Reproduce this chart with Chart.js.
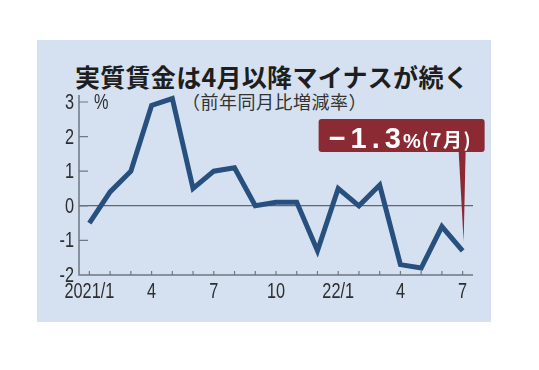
<!DOCTYPE html>
<html>
<head>
<meta charset="utf-8">
<script src="https://cdn.jsdelivr.net/npm/chart.js@4.4.1/dist/chart.umd.min.js"></script>
<style>
  body { margin: 0; background: #fff; }
  #wrap { position: relative; width: 539px; height: 370px; overflow: hidden; }
  #panel { position: absolute; left: 37px; top: 40px; width: 454px; height: 282px; background: #d5e1f1; }
  #title { position: absolute; left: 0; top: 62px; width: 544px; text-align: center;
    font: bold 25px 'Noto Sans CJK JP', sans-serif; line-height: 28px; color: #1e1e1e; letter-spacing: 0.3px; }
  #subtitle { position: absolute; left: 182px; top: 90px; font: 18px 'Noto Sans CJK JP', sans-serif;
    line-height: 22px; color: #333; letter-spacing: 0.5px; }
  canvas { position: absolute; left: 0; top: 0; }
</style>
</head>
<body>
<div id="wrap">
  <div id="panel"></div>
  <div id="title">実質賃金は4月以降マイナスが続く</div>
  <div id="subtitle">（前年同月比増減率）</div>
  <canvas id="chart" width="539" height="370"></canvas>
</div>
<script>
const categories = ['2021/1', '2021/2', '2021/3', '2021/4', '2021/5', '2021/6', '2021/7', '2021/8', '2021/9',
  '2021/10', '2021/11', '2021/12', '2022/1', '2022/2', '2022/3', '2022/4', '2022/5', '2022/6', '2022/7'];
const tickLabels = ['2021/1', '', '', '4', '', '', '7', '', '', '10', '', '', '22/1', '', '', '4', '', '', '7'];
const realWages = [-0.5, 0.4, 1.0, 2.9, 3.1, 0.5, 1.0, 1.1, 0.0, 0.1, 0.1, -1.3, 0.5, 0.0, 0.6, -1.7, -1.8, -0.6, -1.3];
const yTicks = [-2, -1, 0, 1, 2, 3];
const calloutValue = '−1.3';
const calloutUnit = '%';
const calloutMonth = '(7月)';

const axisColor = '#6f7884';
const sansFont = "'Liberation Sans', Arial, 'DejaVu Sans', sans-serif";
const squeeze = 0.74; // the original uses a condensed face for the axis numbers

function narrowText(ctx, text, x, y, align) {
  ctx.save();
  ctx.translate(x, y);
  ctx.scale(squeeze, 1);
  ctx.textAlign = align;
  ctx.fillText(text, 0, 0);
  ctx.restore();
}

// Axis lines, inner tick marks, tick labels and the "%" unit
const axesPlugin = {
  id: 'axes',
  beforeDatasetsDraw(chart) {
    const { ctx, chartArea: a, scales: { x, y } } = chart;
    ctx.save();
    ctx.strokeStyle = axisColor;
    ctx.lineWidth = 1.5;
    ctx.beginPath();
    ctx.moveTo(a.left, a.top - 7);
    ctx.lineTo(a.left, a.bottom);
    ctx.lineTo(a.right, a.bottom);
    ctx.stroke();

    ctx.lineWidth = 1.2;
    ctx.beginPath();
    categories.forEach((c, i) => {
      const px = x.getPixelForValue(i);
      ctx.moveTo(px, a.bottom - 4);
      ctx.lineTo(px, a.bottom);
    });
    for (const v of yTicks) {
      if (v === yTicks[0]) continue;
      const py = y.getPixelForValue(v);
      ctx.moveTo(a.left, py);
      ctx.lineTo(a.left + 9, py);
    }
    ctx.stroke();

    ctx.fillStyle = '#2e2e2e';
    ctx.font = '22px ' + sansFont;
    ctx.textBaseline = 'middle';
    for (const v of yTicks) {
      narrowText(ctx, String(v), a.left - 5, y.getPixelForValue(v) + 1, 'right');
    }
    tickLabels.forEach((t, i) => {
      if (t) narrowText(ctx, t, x.getPixelForValue(i), a.bottom + 17, 'center');
    });
    narrowText(ctx, '%', a.left + 15, y.getPixelForValue(3) + 1, 'left');
    ctx.restore();
  },
};

// Red callout box pointing at the latest value
const calloutPlugin = {
  id: 'callout',
  afterDatasetsDraw(chart) {
    const { ctx, chartArea: a } = chart;
    const pts = chart.getDatasetMeta(0).data;
    const last = pts[pts.length - 1];
    const bx = last.x - 144, by = a.top + 17, bw = 166, bh = 33;
    ctx.save();
    ctx.fillStyle = '#8c2a33';
    ctx.beginPath();
    ctx.roundRect(bx, by, bw, bh, 3);
    ctx.fill();
    ctx.beginPath();
    ctx.moveTo(last.x - 4, by + bh - 1);
    ctx.lineTo(last.x + 3, by + bh - 1);
    ctx.lineTo(last.x + 1, last.y - 9);
    ctx.closePath();
    ctx.fill();

    ctx.fillStyle = '#fff';
    ctx.textBaseline = 'alphabetic';
    ctx.font = 'bold 29px ' + sansFont;
    ctx.letterSpacing = '5px';
    ctx.fillText(calloutValue, bx + 10, by + 29);
    let tx = bx + 10 + ctx.measureText(calloutValue).width - 3;
    ctx.letterSpacing = '0px';
    ctx.font = 'bold 20px ' + sansFont;
    ctx.fillText(calloutUnit, tx, by + 29);
    tx += ctx.measureText(calloutUnit).width + 1;
    ctx.font = "bold 19px 'Noto Sans CJK JP', sans-serif";
    ctx.letterSpacing = '1.5px';
    ctx.fillText(calloutMonth, tx, by + 28);
    ctx.restore();
  },
};

new Chart(document.getElementById('chart'), {
  type: 'line',
  data: {
    labels: categories,
    datasets: [{
      data: realWages,
      borderColor: '#27507f',
      borderWidth: 5,
      pointRadius: 0,
      tension: 0,
      fill: false,
      clip: false,
    }],
  },
  options: {
    responsive: false,
    animation: false,
    layout: { padding: { left: 0, top: 102, right: 66, bottom: 0 } },
    plugins: { legend: { display: false }, tooltip: { enabled: false } },
    scales: {
      x: {
        offset: true,
        grid: { display: false },
        border: { display: false },
        ticks: { display: false, autoSkip: false },
        afterFit: (s) => { s.height = 95; },
      },
      y: {
        min: -2, max: 3,
        border: { display: false },
        grid: {
          drawTicks: false,
          color: (c) => c.tick.value === 0 ? '#5d6876' : 'transparent',
          lineWidth: 1.2,
        },
        ticks: { display: false, stepSize: 1 },
        afterFit: (s) => { s.width = 79; },
      },
    },
  },
  plugins: [axesPlugin, calloutPlugin],
});
</script>
</body>
</html>
